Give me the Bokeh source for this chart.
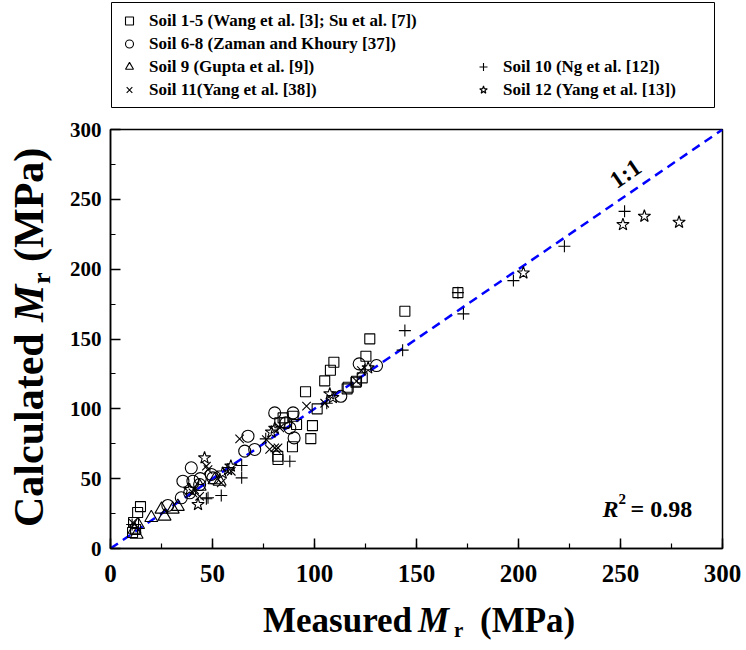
import math
from bokeh.plotting import figure
from bokeh.models import (Range1d, SingleIntervalTicker, Legend, LegendItem, Label, Div,
                          BoxAnnotation)
from bokeh.layouts import row, column
from bokeh.embed import file_html
from bokeh.resources import INLINE

# ---------------- data (Measured Mr, Calculated Mr) in MPa ----------------
soil1_5_x = [10.8, 11.3, 12.3, 13.3, 14.7, 82.1, 82, 83, 84.6, 85.4, 89.2, 89.5, 91.2, 95.6, 98.2, 99,
             101.3, 105, 107.8, 109.5, 116, 116.5, 120.3, 120.6, 123.4, 125.2, 127.1, 144.3, 170.3]
soil1_5_y = [11.5, 18.6, 13.6, 25.8, 30, 63.7, 66, 90, 93.5, 90, 72.8, 94.7, 88.8, 112.2, 78.7, 88,
             100, 120, 127.6, 133.4, 114.3, 115.5, 119, 119.8, 122.2, 137.7, 150.1, 169.9, 183.2]

soil6_8_x = [28.1, 34.7, 38.8, 35.5, 40.4, 39.6, 43.7, 49.4, 50.2, 44, 65.8, 70.7, 67.4, 80.5, 87.9,
             89.5, 90, 86, 112.9, 121.9, 130.4]
soil6_8_y = [30.8, 36.3, 39.9, 48.2, 48.2, 57.8, 45.8, 53, 50.6, 50, 69.7, 70.9, 80.4, 97.1, 86.4,
             97.1, 79.2, 90, 109, 132.2, 131]

soil9_x = [11.8, 12.8, 13.5, 20, 25, 26.5, 30.5, 33, 43.7, 51, 53.5]
soil9_y = [13.6, 10, 17, 22, 28, 23, 28, 30, 44.4, 49, 48]

soil10_x = [10.6, 47, 47.8, 54.3, 64.3, 64.3, 76.1, 87.9, 106, 124.7, 143.2, 144.3, 170.3, 173,
            197.5, 222.5, 252]
soil10_y = [17.2, 35.6, 36.3, 38, 59.4, 50.6, 78.5, 62.5, 104, 128, 142, 156, 183.2, 168,
            191.8, 216.4, 241.4]

soil11_x = [10.9, 40.4, 41.2, 43.7, 47, 47.8, 54.3, 59.2, 63.3, 76.4, 78, 80.5, 81.3, 82.1, 83,
            96.1, 105, 120.6, 123]
soil11_y = [18.4, 39.9, 42.2, 37.4, 58.9, 56.5, 47, 55.3, 78.5, 78, 70.9, 72.1, 70.9, 72.1, 86.4,
            101.9, 104, 119.8, 127.4]

soil12_x = [38.8, 42.9, 46.1, 55, 57.6, 59, 78.9, 80.5, 107.5, 109, 126.3, 202.4, 251.2, 261.7, 278.7]
soil12_y = [42.2, 31.5, 64.9, 54, 56.5, 59, 83.3, 86, 110.7, 108, 129.3, 197.3, 231.9, 237.9, 233.6]

legend_labels = ["Soil 1-5 (Wang et al. [3]; Su et al. [7])",
                 "Soil 6-8 (Zaman and Khoury [37])",
                 "Soil 9 (Gupta et al. [9])",
                 "Soil 10 (Ng et al. [12])",
                 "Soil 11(Yang et al. [38])",
                 "Soil 12 (Yang et al. [13])"]

one_to_one = [0, 300]
axis_min, axis_max = 0, 300
r_squared = "0.98"

FONT = "Liberation Serif"
series = [
    (soil1_5_x, soil1_5_y, "square", 10),
    (soil6_8_x, soil6_8_y, "circle", 12),
    (soil9_x, soil9_y, "triangle", 13),
    (soil10_x, soil10_y, "cross", 12),
    (soil11_x, soil11_y, "x", 12),
    (soil12_x, soil12_y, "star", 13),
]
common = dict(fill_color=None, line_color="black", line_width=1.1)

# ---------------- legend strip (its own small figure) ----------------
LH = 112
lf = figure(width=745, height=LH, output_backend="svg", toolbar_location=None,
            x_range=Range1d(0, 1), y_range=Range1d(0, 1), x_axis_type=None, y_axis_type=None,
            min_border_left=0, min_border_right=0, min_border_top=0, min_border_bottom=0)
lf.outline_line_color = None
lf.background_fill_color = "white"
lf.border_fill_color = "white"
lf.grid.visible = False

# legend swatches (one hidden sample each, outside the visible range)
proxies = [lf.scatter(x=[-5], y=[-5], marker=m, size=s, **common) for (_, _, m, s) in series]

# legend frame box (screen units inside the strip)
lf.add_layout(BoxAnnotation(left=111, right=714, top=LH - 2, bottom=LH - 107,
                            left_units="screen", right_units="screen",
                            top_units="screen", bottom_units="screen",
                            fill_color="white", fill_alpha=1,
                            line_color="black", line_width=1, line_alpha=1))

leg_style = dict(orientation="vertical",
                 label_text_font=FONT, label_text_font_style="bold", label_text_font_size="17px",
                 label_text_color="black",
                 glyph_width=20, glyph_height=21, label_height=21, label_standoff=10,
                 spacing=2, padding=5, margin=0,
                 border_line_color=None, background_fill_alpha=0)

legend_a = Legend(items=[LegendItem(label=legend_labels[i], renderers=[proxies[i]])
                         for i in (0, 1, 2, 4)],
                  location=(119, LH - 100), **leg_style)
legend_b = Legend(items=[LegendItem(label=legend_labels[i], renderers=[proxies[i]])
                         for i in (3, 5)],
                  location=(473, LH - 100), **leg_style)
lf.add_layout(legend_a, "center")
lf.add_layout(legend_b, "center")

# ---------------- main figure ----------------
PH = 481
p = figure(width=690, height=PH, output_backend="svg", toolbar_location=None,
           x_range=Range1d(axis_min, axis_max), y_range=Range1d(axis_min, axis_max),
           min_border_left=55, min_border_right=23, min_border_top=17, min_border_bottom=45)
p.background_fill_color = "white"
p.border_fill_color = "white"
p.outline_line_color = "black"
p.outline_line_width = 1.5
p.xgrid.visible = False
p.ygrid.visible = False

for ax, fs, so in ((p.xaxis[0], "25px", 16), (p.yaxis[0], "21px", 9)):
    ax.ticker = SingleIntervalTicker(interval=50, num_minor_ticks=2)
    ax.axis_line_width = 1.5
    ax.axis_line_color = "black"
    ax.major_tick_in = 10
    ax.major_tick_out = 0
    ax.minor_tick_in = 5
    ax.minor_tick_out = 0
    ax.major_tick_line_width = 1.5
    ax.minor_tick_line_width = 1.2
    ax.major_label_text_font = FONT
    ax.major_label_text_font_style = "bold"
    ax.major_label_text_font_size = fs
    ax.major_label_text_color = "black"
    ax.major_label_standoff = so

# 1:1 line
p.line(one_to_one, one_to_one, line_color="#0000ff", line_width=2.5, line_dash="9 6")

for (xs_, ys_, m, s) in series:
    p.scatter(xs_, ys_, marker=m, size=s, **common)

def lab(text, sx, sy, size, style="bold", angle=0.0, align="left", baseline="alphabetic"):
    p.add_layout(Label(x=sx, y=sy, x_units="screen", y_units="screen", text=text,
                       text_font=FONT, text_font_style=style, text_font_size=size,
                       text_color="black", angle=angle, text_align=align,
                       text_baseline=baseline))

# R^2 (inside the frame)
lab("R", 492, 40, "24px", "bold italic")
lab("2", 508, 50, "15px")
lab("= " + r_squared, 520, 40, "24px")

# 1:1 annotation along the line
lab("1:1", 515, 375, "24px", angle=math.atan(1.397 / 2.037), align="center", baseline="middle")

# ---------------- axis titles as real HTML text ----------------
base = "position:absolute;white-space:nowrap;line-height:1;font-family:'Liberation Serif';font-weight:bold;color:#000;"

def span(text, left, top, size, italic=False, rotate=False):
    st = base + f"left:{left:.1f}px;top:{top:.1f}px;font-size:{size}px;"
    if italic:
        st += "font-style:italic;"
    if rotate:
        st += "transform-origin:0 0;transform:rotate(-90deg);"
    return f'<span style="{st}">{text}</span>'

A = 0.8375
# x title pieces (baseline at y=39 inside the div)
xs = (span("Measured", 263, 39 - A * 35, 35)
      + span("M", 418, 39 - A * 35, 35, italic=True)
      + span("r", 454, 45 - A * 21, 21)
      + span("(MPa)", 480, 39 - A * 35, 35))
xdiv = Div(text=f'<div style="position:relative;width:745px;height:50px;">{xs}</div>',
           width=745, height=50, margin=0)

# y title pieces (rotated, baseline at x=43); div top sits at the strip height
off = 120 - LH
ys = (span("Calculated", 43 - A * 42, 407 + off, 42, rotate=True)
      + span("M", 43 - A * 42, 202 + off, 42, italic=True, rotate=True)
      + span("r", 51 - A * 26, 164 + off, 26, rotate=True)
      + span("(MPa)", 43 - A * 42, 142 + off, 42, rotate=True))
ydiv = Div(text=f'<div style="position:relative;width:55px;height:{PH}px;">{ys}</div>',
           width=55, height=PH, margin=0)

layout = column(lf, row(ydiv, p, spacing=0), xdiv, spacing=0)

open("out.html", "w").write(file_html(layout, INLINE))
